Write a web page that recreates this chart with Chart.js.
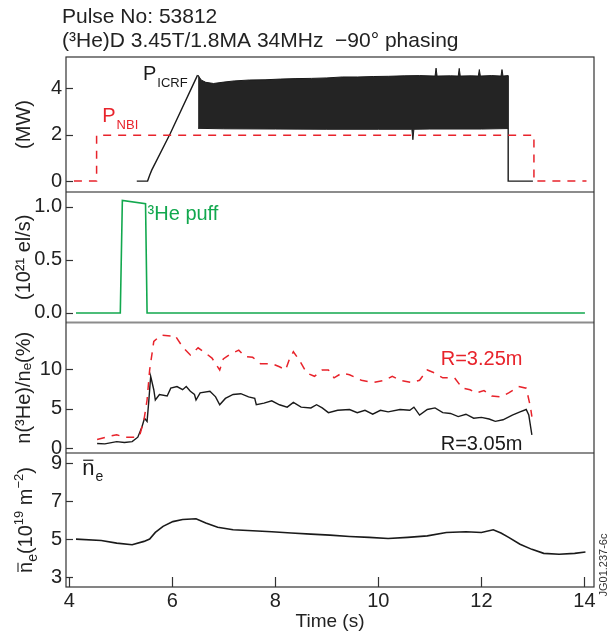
<!DOCTYPE html>
<html>
<head>
<meta charset="utf-8">
<script src="https://cdn.jsdelivr.net/npm/chart.js@4"></script>
<style>
  body { margin: 0; background: #fff; }
  canvas { display: block; }
</style>
</head>
<body>
<canvas id="chart" width="609" height="641"></canvas>
<script>
// ---- data ----
const titleLines = ['Pulse No: 53812', '(\u00b3He)D 3.45T/1.8MA 34MHz  \u221290\u00b0 phasing'];

const timeTicks = [4, 6, 8, 10, 12, 14];
const powerTicks = [0, 2, 4];
const puffTicks = [0, 0.5, 1.0];
const ratioTicks = [0, 5, 10];
const densityTicks = [3, 5, 7, 9];

// P_NBI (MW)
const nbiTime = [4.09, 4.53, 4.53, 13.02, 13.02, 14.04];
const nbiPower = [0, 0, 1.97, 1.97, 0, 0];

// P_ICRF ramp-up (MW)
const icrfRampTime = [5.31, 5.52, 5.56, 5.60, 5.96, 6.49];
const icrfRampPower = [0, 0, 0.25, 0.47, 2.05, 4.56];

// P_ICRF modulated part: upper and lower envelope (MW)
const icrfTopTime = [6.50, 6.56, 6.65, 6.80, 7.00, 7.20, 7.50, 7.80, 8.10, 8.40, 8.70, 9.00, 9.30, 9.60, 9.90,
  10.20, 10.50, 10.80, 11.10, 11.12, 11.14, 11.40, 11.55, 11.57, 11.59, 11.80, 11.94, 11.96, 11.98,
  12.20, 12.38, 12.40, 12.42, 12.52];
const icrfTopPower = [4.56, 4.35, 4.25, 4.20, 4.26, 4.31, 4.35, 4.36, 4.39, 4.41, 4.42, 4.44, 4.48, 4.48, 4.50,
  4.51, 4.53, 4.54, 4.52, 4.86, 4.52, 4.53, 4.52, 4.85, 4.52, 4.53, 4.52, 4.80, 4.52,
  4.54, 4.52, 4.80, 4.52, 4.54];
const icrfBottomTime = [6.50, 7.00, 8.00, 9.00, 10.00, 10.65, 10.67, 10.69, 11.00, 12.00, 12.52];
const icrfBottomPower = [2.27, 2.25, 2.24, 2.23, 2.23, 2.23, 1.78, 2.23, 2.24, 2.24, 2.26];

// P_ICRF switch-off (MW)
const icrfTailTime = [12.52, 12.52, 13.0];
const icrfTailPower = [4.54, 0, 0];

// 3He puff (1e21 el/s)
const puffTime = [4.13, 4.99, 5.03, 5.48, 5.51, 14.01];
const puffRate = [0, 0, 1.06, 1.03, 0, 0];

// n(3He)/ne (%) at R = 3.25 m
const r325Time = [4.54, 4.77, 4.92, 5.07, 5.30, 5.37, 5.45, 5.51, 5.56, 5.64, 5.71, 5.79, 5.97, 6.05, 6.20, 6.35,
  6.50, 6.65, 6.77, 6.88, 6.92, 6.99, 7.10, 7.29, 7.41, 7.56, 7.71, 7.93, 8.08, 8.20, 8.27, 8.35, 8.46,
  8.61, 8.76, 8.91, 9.03, 9.14, 9.29, 9.44, 9.67, 9.89, 10.12, 10.27, 10.42, 10.65, 10.80, 10.95, 11.10,
  11.25, 11.48, 11.63, 11.78, 11.90, 12.05, 12.20, 12.38, 12.53, 12.72, 12.87, 12.95, 12.98];
const r325Ratio = [1.1, 1.5, 1.7, 1.4, 1.4, 1.7, 3.6, 6.1, 9.9, 13.5, 13.9, 14.3, 14.2, 14.3, 12.8, 11.8,
  12.7, 12.0, 11.4, 10.3, 9.9, 11.3, 11.8, 12.4, 11.6, 11.5, 10.7, 10.7, 10.3, 9.9, 11.2, 12.2, 11.2,
  9.5, 9.1, 9.9, 9.9, 8.9, 9.5, 9.3, 8.6, 8.3, 8.6, 9.1, 8.6, 8.3, 8.6, 9.9, 9.5,
  8.9, 8.9, 7.6, 7.4, 7.0, 7.3, 6.6, 6.5, 7.0, 7.8, 7.6, 5.3, 4.0];

// n(3He)/ne (%) at R = 3.05 m
const r305Time = [4.54, 4.69, 4.92, 5.07, 5.22, 5.33, 5.41, 5.46, 5.51, 5.54, 5.58, 5.64, 5.67, 5.75, 5.90, 5.97,
  6.09, 6.20, 6.27, 6.35, 6.43, 6.46, 6.54, 6.73, 6.84, 6.92, 7.03, 7.18, 7.33, 7.48, 7.60, 7.63, 7.78,
  7.93, 8.08, 8.23, 8.35, 8.50, 8.69, 8.80, 8.91, 9.03, 9.21, 9.44, 9.59, 9.74, 9.89, 10.04, 10.19,
  10.42, 10.61, 10.69, 10.80, 10.95, 11.10, 11.25, 11.40, 11.55, 11.70, 11.85, 12.00, 12.15, 12.27,
  12.42, 12.60, 12.75, 12.87, 12.92, 12.98];
const r305Ratio = [0.6, 0.55, 0.84, 0.72, 0.84, 1.4, 2.7, 3.8, 3.4, 5.7, 9.1, 7.4, 6.1, 6.8, 6.6, 7.6,
  7.8, 7.4, 7.8, 7.2, 6.8, 6.1, 7.0, 7.2, 6.5, 5.5, 6.3, 6.8, 6.9, 6.5, 6.3, 5.5, 5.7,
  6.0, 5.5, 5.2, 5.8, 5.2, 5.1, 5.5, 5.1, 4.5, 4.8, 4.9, 4.5, 4.8, 4.3, 4.8, 4.6,
  4.9, 4.8, 5.2, 4.2, 4.9, 5.1, 4.5, 4.4, 4.0, 4.3, 3.8, 3.9, 3.7, 3.4,
  3.6, 4.2, 4.6, 4.9, 4.2, 1.7];

// line-averaged density (1e19 m^-2)
const neTime = [4.13, 4.62, 4.92, 5.22, 5.45, 5.56, 5.67, 5.82, 6.01, 6.20, 6.46, 6.65, 6.88, 7.18, 7.56,
  7.93, 8.31, 8.69, 9.06, 9.44, 9.82, 10.19, 10.57, 10.95, 11.32, 11.70, 12.00, 12.23, 12.38, 12.53,
  12.75, 12.98, 13.21, 13.51, 13.81, 14.02];
const neDensity = [5.0, 4.93, 4.79, 4.70, 4.88, 5.0, 5.35, 5.67, 5.92, 6.03, 6.07, 5.85, 5.62, 5.49, 5.44,
  5.39, 5.32, 5.26, 5.21, 5.14, 5.09, 5.03, 5.09, 5.17, 5.35, 5.39, 5.35, 5.49, 5.32, 5.09,
  4.73, 4.46, 4.25, 4.20, 4.25, 4.32];

const RED = '#e8232b';
const GREEN = '#12a84e';
const BLACK = '#1a1a1a';
const FONT = '"Liberation Sans", Arial, sans-serif';

const pts = (xs, ys) => xs.map((x, i) => ({ x: x, y: ys[i] }));

const fixedTicks = (vals) => (scale) => { scale.ticks = vals.map(v => ({ value: v })); };

const yAxis = (min, max, weight, title, ticks, fmt) => ({
    type: 'linear',
    position: 'left',
    stack: 'panels',
    stackWeight: weight,
    min: min,
    max: max,
    afterBuildTicks: fixedTicks(ticks),
    afterFit: (s) => { s.width = 66; },
    grid: { display: false, drawTicks: false },
    border: { display: false },
    ticks: {
        padding: 4,
        autoSkip: false,
        color: '#222',
        font: { family: FONT, size: 20 },
        callback: fmt || ((v) => v)
    },
    title: {
        display: title !== '',
        text: title,
        color: '#222',
        font: { family: FONT, size: 20 },
        padding: { top: 12, bottom: 0 }
    }
});

function drawSub(ctx, x, y, main, sub, color, size, subSize, drop) {
    ctx.fillStyle = color;
    ctx.font = size + 'px ' + FONT;
    ctx.fillText(main, x, y);
    const w = ctx.measureText(main).width;
    ctx.font = subSize + 'px ' + FONT;
    ctx.fillText(sub, x + w + 1, y + drop);
}

// rich text run: [text, size, baseline shift]
function drawRuns(ctx, runs, x, y) {
    let cx = x;
    const spans = [];
    runs.forEach(r => {
        ctx.font = r[1] + 'px ' + FONT;
        ctx.fillText(r[0], cx, y + r[2]);
        const w = ctx.measureText(r[0]).width;
        spans.push([cx, w]);
        cx += w;
    });
    return spans;
}

function runsWidth(ctx, runs) {
    return runs.reduce((s, r) => { ctx.font = r[1] + 'px ' + FONT; return s + ctx.measureText(r[0]).width; }, 0);
}

const neTitle = [['n', 20, 0], ['e', 14, 5], ['(10', 20, 0], ['19', 13, -9], [' m', 20, 0], ['\u22122', 13, -9], [')', 20, 0]];

const panelPlugin = {
    id: 'panels',
    afterDraw(chart) {
        const { ctx, chartArea: a, scales } = chart;
        const line = (x1, y1, x2, y2) => { ctx.beginPath(); ctx.moveTo(x1, y1); ctx.lineTo(x2, y2); ctx.stroke(); };
        ctx.save();

        // inward tick marks
        ctx.strokeStyle = '#333';
        ctx.lineWidth = 1.2;
        ['yP', 'yHe', 'yRatio', 'yNe'].forEach(id => {
            const s = scales[id];
            s.ticks.forEach(t => {
                const y = Math.round(s.getPixelForValue(t.value)) + 0.5;
                line(a.left, y, a.left + 7, y);
            });
        });
        scales.x.ticks.forEach(t => {
            const x = Math.round(scales.x.getPixelForValue(t.value)) + 0.5;
            line(x, a.bottom, x, a.bottom - 10);
        });

        // panel separators
        ctx.strokeStyle = '#8c8c8c';
        ctx.lineWidth = 2;
        ['yHe', 'yRatio', 'yNe'].forEach(id => line(a.left, scales[id].top, a.right, scales[id].top));

        // frame
        ctx.strokeStyle = '#333';
        ctx.lineWidth = 1.2;
        ctx.strokeRect(a.left, a.top, a.width, a.height);

        // header
        ctx.fillStyle = '#222';
        ctx.font = '21px ' + FONT;
        ctx.textBaseline = 'alphabetic';
        ctx.textAlign = 'left';
        ctx.fillText(titleLines[0], 62, 23);
        ctx.fillText(titleLines[1], 62, 47);

        // annotations placed in data coordinates
        const X = (t) => scales.x.getPixelForValue(t);
        drawSub(ctx, X(5.43), scales.yP.getPixelForValue(4.34), 'P', 'ICRF', BLACK, 20, 13, 7);
        drawSub(ctx, X(4.64), scales.yP.getPixelForValue(2.54), 'P', 'NBI', RED, 20, 13, 7);

        ctx.fillStyle = GREEN;
        ctx.font = '20px ' + FONT;
        ctx.fillText('\u00b3He puff', X(5.52), scales.yHe.getPixelForValue(0.875));

        ctx.fillStyle = RED;
        ctx.fillText('R=3.25m', X(11.21), scales.yRatio.getPixelForValue(10.5));
        ctx.fillStyle = BLACK;
        ctx.fillText('R=3.05m', X(11.21), scales.yRatio.getPixelForValue(-0.2));

        // n-bar-e label
        const nx = X(4.25), ny = scales.yNe.getPixelForValue(8.36);
        drawSub(ctx, nx, ny, 'n', 'e', BLACK, 22, 14, 6);
        ctx.font = '22px ' + FONT;
        const nw = ctx.measureText('n').width;
        ctx.strokeStyle = BLACK;
        ctx.lineWidth = 1.2;
        line(nx + 1, ny - 15, nx + nw - 1, ny - 15);

        // density axis title with sub/superscripts
        ctx.save();
        const sNe = scales.yNe;
        ctx.translate(24, (sNe.top + sNe.bottom) / 2);
        ctx.rotate(-Math.PI / 2);
        ctx.fillStyle = '#222';
        const tw = runsWidth(ctx, neTitle);
        const spans = drawRuns(ctx, neTitle, -tw / 2, 8);
        ctx.strokeStyle = '#222';
        ctx.lineWidth = 1.1;
        line(spans[0][0] + 1, 8 - 14, spans[0][0] + spans[0][1] - 1, 8 - 14);
        ctx.restore();

        // plate id
        ctx.translate(604, 565);
        ctx.rotate(-Math.PI / 2);
        ctx.textAlign = 'center';
        ctx.textBaseline = 'middle';
        ctx.fillStyle = '#333';
        ctx.font = '11px ' + FONT;
        ctx.fillText('JG01.237-6c', 0, 0);

        ctx.restore();
    }
};

const lineSet = (data, yAxisID, color, extra) => Object.assign({
    data: data,
    yAxisID: yAxisID,
    borderColor: color,
    backgroundColor: color,
    borderWidth: 1.4,
    pointRadius: 0,
    tension: 0,
    fill: false
}, extra || {});

new Chart(document.getElementById('chart').getContext('2d'), {
    type: 'line',
    data: {
        datasets: [
            lineSet(pts(nbiTime, nbiPower), 'yP', RED, { borderDash: [8, 7], borderWidth: 1.5 }),
            lineSet(pts(icrfRampTime, icrfRampPower), 'yP', BLACK),
            lineSet(pts(icrfTopTime, icrfTopPower), 'yP', BLACK, { borderWidth: 1, fill: '+1', backgroundColor: '#242424' }),
            lineSet(pts(icrfBottomTime, icrfBottomPower), 'yP', BLACK, { borderWidth: 1 }),
            lineSet(pts(icrfTailTime, icrfTailPower), 'yP', BLACK),
            lineSet(pts(puffTime, puffRate), 'yHe', GREEN, { borderWidth: 1.6 }),
            lineSet(pts(r325Time, r325Ratio), 'yRatio', RED, { borderDash: [8, 7], borderWidth: 1.5 }),
            lineSet(pts(r305Time, r305Ratio), 'yRatio', BLACK),
            lineSet(pts(neTime, neDensity), 'yNe', BLACK, { borderWidth: 1.6 })
        ]
    },
    options: {
        responsive: false,
        animation: false,
        layout: { padding: { top: 57, right: 15, bottom: 0, left: 0 } },
        plugins: {
            legend: { display: false },
            tooltip: { enabled: false }
        },
        scales: {
            // stacked from bottom to top: the last one defined ends up on top
            yNe: yAxis(2.48, 9.53, 134, '', densityTicks),
            yRatio: yAxis(-0.6, 15.9, 130.5, 'n(\u00b3He)/n\u2091(%)', ratioTicks),
            yHe: yAxis(-0.09, 1.14, 130.5, '(10\u00b2\u00b9 el/s)', puffTicks, (v) => v.toFixed(1)),
            yP: yAxis(-0.47, 5.34, 135, '(MW)', powerTicks),
            x: {
                type: 'linear',
                position: 'bottom',
                min: 3.936,
                max: 14.186,
                afterBuildTicks: fixedTicks(timeTicks),
                afterFit: (s) => { s.height = 54; },
                grid: { display: false, drawTicks: false },
                border: { display: false },
                ticks: {
                    padding: 2,
                    autoSkip: false,
                    maxRotation: 0,
                    color: '#222',
                    font: { family: FONT, size: 20 }
                },
                title: {
                    display: true,
                    text: 'Time (s)',
                    color: '#222',
                    font: { family: FONT, size: 19 },
                    padding: { top: 0, bottom: 8 }
                }
            }
        }
    },
    plugins: [panelPlugin]
});
</script>
</body>
</html>
